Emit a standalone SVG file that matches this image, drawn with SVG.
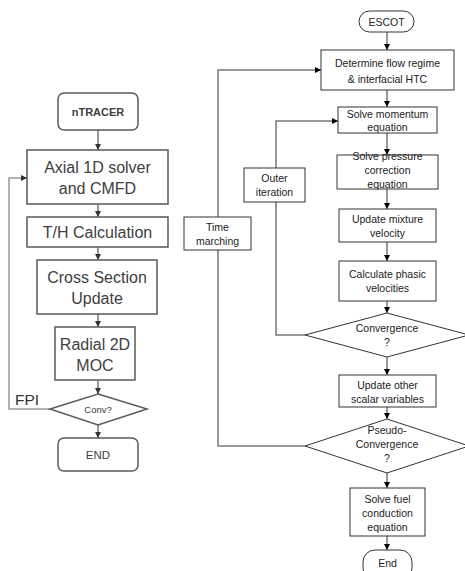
<svg xmlns="http://www.w3.org/2000/svg" width="465" height="571" viewBox="0 0 465 571">
<defs>
<marker id="ah" viewBox="0 0 10 10" refX="10" refY="5" markerWidth="6" markerHeight="6" markerUnits="userSpaceOnUse" orient="auto"><path d="M0,0 L10,5 L0,10 z" fill="#000"/></marker>
<marker id="ahg" viewBox="0 0 10 10" refX="10" refY="5" markerWidth="6" markerHeight="6" markerUnits="userSpaceOnUse" orient="auto"><path d="M0,0 L10,5 L0,10 z" fill="#333"/></marker>
</defs>
<style>
.lb{fill:#fff;stroke:#5a5a5a;stroke-width:1.5}
.lt{font-family:"Liberation Sans",Arial,sans-serif;fill:#404040;text-anchor:middle}
.rb{fill:#fff;stroke:#333;stroke-width:1}
.rt{font-family:"Liberation Sans",Arial,sans-serif;fill:#222;text-anchor:middle;font-size:10.5px}
.c{fill:none;stroke:#333;stroke-width:1}
.cg{fill:none;stroke:#999;stroke-width:1.5}
.cr{fill:none;stroke:#777;stroke-width:1.5}
</style>
<rect width="465" height="571" fill="#fff"/>
<g id="connectors">
<path class="c" d="M98,130 V150" marker-end="url(#ahg)"/>
<path class="c" d="M98,204 V217" marker-end="url(#ahg)"/>
<path class="c" d="M98,247 V260" marker-end="url(#ahg)"/>
<path class="c" d="M98,314 V327" marker-end="url(#ahg)"/>
<path class="c" d="M98,380 V394" marker-end="url(#ahg)"/>
<path class="c" d="M98,425 V438" marker-end="url(#ahg)"/>
<path class="cg" d="M50,409 H9 V178 H27" marker-end="url(#ahg)"/>
<path class="c" d="M387,32 V50" marker-end="url(#ah)"/>
<path class="c" d="M387,90 V107" marker-end="url(#ah)"/>
<path class="c" d="M387,133 V155" marker-end="url(#ah)"/>
<path class="c" d="M387,189 V209" marker-end="url(#ah)"/>
<path class="c" d="M387,242 V261" marker-end="url(#ah)"/>
<path class="c" d="M387,301 V313" marker-end="url(#ah)"/>
<path class="c" d="M387,357 V375" marker-end="url(#ah)"/>
<path class="c" d="M387,407 V419" marker-end="url(#ah)"/>
<path class="c" d="M387,473 V488" marker-end="url(#ah)"/>
<path class="c" d="M387,536 V550" marker-end="url(#ah)"/>
<path class="cr" d="M305,335 H276 V121 H338" marker-end="url(#ah)"/>
<path class="cr" d="M305,446 H218 V70 H321" marker-end="url(#ah)"/>
</g>
<g id="ntracer"><rect class="lb" x="58" y="93" width="80" height="37" rx="6"/><text class="lt" x="98" y="116" font-size="11" font-weight="bold">nTRACER</text></g>
<g id="axial"><rect class="lb" x="27" y="150" width="141" height="54"/><text class="lt" x="97.5" y="173" font-size="16">Axial 1D solver</text><text class="lt" x="97.5" y="194" font-size="16">and CMFD</text></g>
<g id="th"><rect class="lb" x="27" y="217" width="141" height="30"/><text class="lt" x="97.5" y="238" font-size="16">T/H Calculation</text></g>
<g id="xs"><rect class="lb" x="37" y="260" width="120" height="54"/><text class="lt" x="97" y="283" font-size="16">Cross Section</text><text class="lt" x="97" y="304" font-size="16">Update</text></g>
<g id="moc"><rect class="lb" x="55" y="327" width="80" height="53"/><text class="lt" x="95" y="350" font-size="16">Radial 2D</text><text class="lt" x="95" y="371" font-size="16">MOC</text></g>
<g id="conv"><polygon class="lb" points="98,394 147,409 98,425 50,409"/><text class="lt" x="98" y="413" font-size="9.5">Conv?</text></g>
<g id="fpi"><text x="15" y="405" font-family="Liberation Sans,Arial,sans-serif" font-size="15.5" fill="#333">FPI</text></g>
<g id="end-left"><rect class="lb" x="58" y="438" width="80" height="33" rx="6"/><text class="lt" x="98" y="459" font-size="11.5">END</text></g>
<g id="escot"><rect class="rb" x="359" y="11" width="55" height="21" rx="10.5"/><text class="rt" x="386.5" y="25.5">ESCOT</text></g>
<g id="determine"><rect class="rb" x="321" y="50" width="133" height="40"/><text class="rt" x="387.5" y="67">Determine flow regime</text><text class="rt" x="387.5" y="83">&amp; interfacial HTC</text></g>
<g id="momentum"><rect class="rb" x="338" y="107" width="99" height="26"/><text class="rt" x="387.5" y="118">Solve momentum</text><text class="rt" x="387.5" y="131">equation</text></g>
<g id="pressure"><rect class="rb" x="337" y="155" width="101" height="34"/><text class="rt" x="387.5" y="160">Solve pressure</text><text class="rt" x="387.5" y="174">correction</text><text class="rt" x="387.5" y="188">equation</text></g>
<g id="mixture"><rect class="rb" x="339" y="209" width="97" height="33"/><text class="rt" x="387.5" y="223">Update mixture</text><text class="rt" x="387.5" y="237">velocity</text></g>
<g id="phasic"><rect class="rb" x="339" y="261" width="97" height="40"/><text class="rt" x="387.5" y="278">Calculate phasic</text><text class="rt" x="387.5" y="292">velocities</text></g>
<g id="convergence"><polygon class="rb" points="387,313 469,335 387,357 305,335"/><text class="rt" x="387" y="332">Convergence</text><text class="rt" x="387" y="346">?</text></g>
<g id="outer"><rect class="rb" x="244" y="168" width="61" height="34"/><text class="rt" x="274.5" y="182">Outer</text><text class="rt" x="274.5" y="196">iteration</text></g>
<g id="scalar"><rect class="rb" x="339" y="375" width="97" height="32"/><text class="rt" x="387.5" y="389">Update other</text><text class="rt" x="387.5" y="403">scalar variables</text></g>
<g id="pseudo"><polygon class="rb" points="387,419 469,446 387,473 305,446"/><text class="rt" x="387" y="434">Pseudo-</text><text class="rt" x="387" y="448">Convergence</text><text class="rt" x="387" y="462">?</text></g>
<g id="time"><rect class="rb" x="184" y="217" width="67" height="33"/><text class="rt" x="217.5" y="231">Time</text><text class="rt" x="217.5" y="245">marching</text></g>
<g id="fuel"><rect class="rb" x="350" y="488" width="75" height="48"/><text class="rt" x="387.5" y="503">Solve fuel</text><text class="rt" x="387.5" y="517">conduction</text><text class="rt" x="387.5" y="531">equation</text></g>
<g id="end-right"><rect class="rb" x="363" y="550" width="49" height="30" rx="12"/><text class="rt" x="387.5" y="567">End</text></g>
</svg>
